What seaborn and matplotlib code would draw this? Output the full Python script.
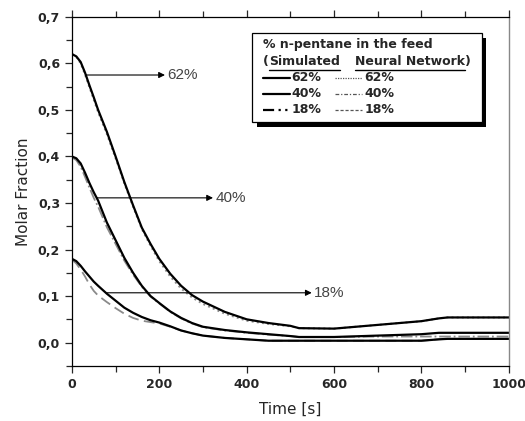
import numpy as np
import pandas as pd
import matplotlib
matplotlib.use("Agg")
import matplotlib.pyplot as plt
import seaborn as sns
from matplotlib.ticker import MultipleLocator, FuncFormatter
from matplotlib.patches import Rectangle

# time grid [s]
time_s = [0, 10, 20, 30, 40, 50, 60, 80, 100, 120, 140, 160, 180, 200, 225, 250,
          275, 300, 350, 400, 450, 500, 520, 600, 700, 800, 840, 860, 1000]

# simulated molar fraction
sim_62 = [0.620, 0.615, 0.603, 0.580, 0.553, 0.527, 0.500, 0.453, 0.400, 0.345, 0.295,
          0.247, 0.212, 0.180, 0.148, 0.122, 0.102, 0.088, 0.066, 0.050, 0.042, 0.036,
          0.031, 0.030, 0.038, 0.046, 0.052, 0.054, 0.054]
sim_40 = [0.400, 0.396, 0.385, 0.365, 0.343, 0.323, 0.305, 0.258, 0.220, 0.182, 0.150,
          0.122, 0.100, 0.085, 0.067, 0.053, 0.042, 0.034, 0.027, 0.022, 0.018, 0.014,
          0.012, 0.012, 0.015, 0.018, 0.021, 0.021, 0.021]
sim_18 = [0.180, 0.175, 0.165, 0.153, 0.142, 0.131, 0.122, 0.105, 0.090, 0.075, 0.064,
          0.055, 0.048, 0.043, 0.035, 0.026, 0.020, 0.015, 0.010, 0.007, 0.004, 0.004,
          0.004, 0.004, 0.004, 0.004, 0.007, 0.008, 0.008]

# neural network prediction
nn_62 = [0.620, 0.614, 0.600, 0.576, 0.549, 0.522, 0.495, 0.448, 0.396, 0.342, 0.292,
         0.244, 0.208, 0.175, 0.142, 0.116, 0.097, 0.083, 0.062, 0.047, 0.040, 0.035,
         0.031, 0.030, 0.038, 0.046, 0.052, 0.054, 0.054]
nn_40 = [0.398, 0.392, 0.378, 0.356, 0.333, 0.311, 0.292, 0.248, 0.212, 0.176, 0.146,
         0.120, 0.099, 0.084, 0.066, 0.052, 0.041, 0.033, 0.026, 0.021, 0.017, 0.014,
         0.012, 0.012, 0.013, 0.013, 0.013, 0.013, 0.013]
nn_18 = [0.178, 0.170, 0.157, 0.142, 0.125, 0.111, 0.101, 0.087, 0.074, 0.062, 0.053,
         0.047, 0.044, 0.041, 0.034, 0.026, 0.020, 0.015, 0.010, 0.007, 0.004, 0.004,
         0.004, 0.004, 0.004, 0.004, 0.007, 0.008, 0.008]

arrow_labels = ["62%", "40%", "18%"]
arrow_y = [0.575, 0.311, 0.107]
arrow_from = [32, 57, 80]
arrow_to = [213, 323, 549]

sns.set_style("ticks")
plt.rcParams["font.family"] = ["DejaVu Sans"]

fig = plt.figure(figsize=(5.25, 4.21), dpi=100)
fig.patch.set_facecolor("white")
ax = fig.add_axes([0.137, 0.131, 0.832, 0.829])

gray = "#8a8a8a"
sns.lineplot(x=time_s, y=nn_62, ax=ax, color=gray, lw=1.4, linestyle=":")
sns.lineplot(x=time_s, y=nn_40, ax=ax, color=gray, lw=1.3, linestyle="-.")
sns.lineplot(x=time_s, y=nn_18, ax=ax, color=gray, lw=1.3, linestyle=(0, (6, 3)))
for ys in [sim_62, sim_40, sim_18]:
    sns.lineplot(x=time_s, y=ys, ax=ax, color="black", lw=1.6)

for lab, y, x0, x1 in zip(arrow_labels, arrow_y, arrow_from, arrow_to):
    ax.annotate("", xy=(x1, y), xytext=(x0, y),
                arrowprops=dict(arrowstyle="-|>", color="black", lw=0.8,
                                mutation_scale=9, shrinkA=0, shrinkB=0))
    ax.text(x1 + 6, y, lab, va="center", ha="left", fontsize=11,
            family="Liberation Sans", color="#444444")

ax.set_xlim(0, 1000)
ax.set_ylim(-0.05, 0.7)
ax.xaxis.set_major_locator(MultipleLocator(200))
ax.xaxis.set_minor_locator(MultipleLocator(100))
ax.yaxis.set_major_locator(MultipleLocator(0.1))
ax.yaxis.set_minor_locator(MultipleLocator(0.05))
ax.yaxis.set_major_formatter(FuncFormatter(lambda v, p: f"{v:.1f}".replace(".", ",")))
ax.tick_params(which="both", direction="out", top=True, right=False, width=0.9,
               labelsize=9)
ax.tick_params(which="major", length=5)
ax.tick_params(which="minor", length=4)
for lbl in ax.get_xticklabels() + ax.get_yticklabels():
    lbl.set_fontweight("bold")
for s in ["left", "bottom", "top"]:
    ax.spines[s].set_color("black")
    ax.spines[s].set_linewidth(0.9)
ax.spines["right"].set_color("#888888")
ax.spines["right"].set_linewidth(1.0)

ax.set_xlabel("Time [s]", fontsize=11, labelpad=8)
ax.set_ylabel("Molar Fraction", fontsize=11, labelpad=5)

# legend box with shadow
bx0, bx1, by0, by1 = 0.412, 0.938, 0.699, 0.954
tr = ax.transAxes
ax.add_patch(Rectangle((bx0 + 0.011, by0 - 0.016), bx1 - bx0, by1 - by0, transform=tr,
                       facecolor="black", edgecolor="none", zorder=5, clip_on=False))
ax.add_patch(Rectangle((bx0, by0), bx1 - bx0, by1 - by0, transform=tr,
                       facecolor="white", edgecolor="black", lw=0.9, zorder=6, clip_on=False))

fs = 9
ax.text(0.437, 0.920, "% n-pentane in the feed", transform=tr, fontsize=fs,
        fontweight="bold", va="center", zorder=7)
t_open = ax.text(0.437, 0.871, "(", transform=tr, fontsize=fs, fontweight="bold",
                 va="center", zorder=7)
fig.canvas.draw()
rend = fig.canvas.get_renderer()
inv = tr.inverted()
bb = t_open.get_window_extent(rend)
x_s = inv.transform((bb.x1, bb.y0))[0]
t_sim = ax.text(x_s, 0.871, "Simulated", transform=tr, fontsize=fs, fontweight="bold",
                va="center", zorder=7)
t_nn = ax.text(0.648, 0.871, "Neural Network", transform=tr, fontsize=fs,
               fontweight="bold", va="center", zorder=7)
fig.canvas.draw()
for t in [t_sim, t_nn]:
    b = t.get_window_extent(rend)
    (ux0, uy), (ux1, _) = inv.transform([(b.x0, b.y0), (b.x1, b.y0)])
    ax.plot([ux0, ux1], [uy - 0.004, uy - 0.004], transform=tr, color="black",
            lw=1.0, zorder=7, clip_on=False)
b = t_nn.get_window_extent(rend)
ax.text(inv.transform((b.x1, b.y0))[0], 0.871, ")", transform=tr, fontsize=fs,
        fontweight="bold", va="center", zorder=7)

leg_rows = [0.825, 0.779, 0.734]
sim_styles = ["-", "-", (0, (5, 2, 1, 2, 1, 2))]
nn_styles = [(0, (1, 1)), (0, (3, 1.5, 1, 1.5)), (0, (2.5, 1.5))]
for yy, lab, ss, ns in zip(leg_rows, arrow_labels, sim_styles, nn_styles):
    ax.plot([0.437, 0.499], [yy, yy], transform=tr, color="black", lw=1.6,
            linestyle=ss, zorder=7, clip_on=False)
    ax.text(0.503, yy, lab, transform=tr, fontsize=fs, fontweight="bold",
            va="center", zorder=7)
    ax.plot([0.602, 0.664], [yy, yy], transform=tr, color="#555555", lw=0.9,
            linestyle=ns, zorder=7, clip_on=False)
    ax.text(0.670, yy, lab, transform=tr, fontsize=fs, fontweight="bold",
            va="center", zorder=7)

fig.savefig("out.png", dpi=100, facecolor="white")
plt.close(fig)
